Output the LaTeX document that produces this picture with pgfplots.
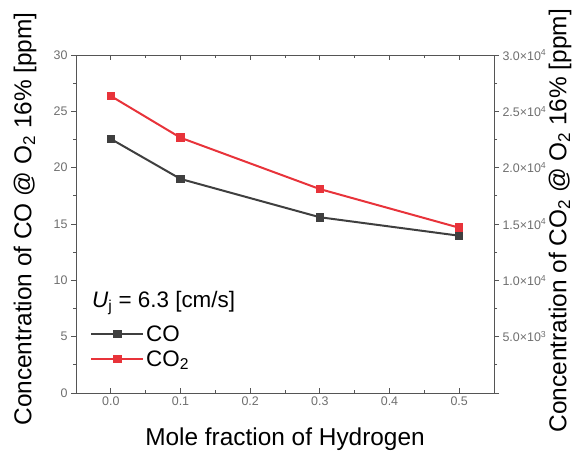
\documentclass[border=0pt]{standalone}
\usepackage{pgfplots}
\pgfplotsset{compat=1.18}
\usepackage{fontspec}
\setmainfont{Liberation Sans}

\definecolor{cogray}{HTML}{3F3F3F}
\definecolor{cored}{HTML}{E8333A}
\definecolor{tickgray}{HTML}{6E6E6E}
\definecolor{axgray}{HTML}{555555}

\pgfplotsset{
  base/.style={
    width=418bp, height=338bp, scale only axis,
    xmin=-0.05, xmax=0.55, ymin=0,
    axis line style={axgray, line width=0.9bp},
    every tick/.style={axgray, line width=0.8bp},
    major tick length=5bp, minor tick length=3bp,
    xtick align=inside, ytick align=outside,
    tick label style={font=\fontsize{12.5}{15}\selectfont, text=tickgray},
    /pgf/number format/assume math mode=true,
    label style={font=\fontsize{24.5}{29}\selectfont},
  },
  coline/.style={cogray, line width=2bp, mark=square*, mark size=3.3bp, mark options={solid}},
  co2line/.style={cored, line width=2bp, mark=square*, mark size=3.3bp, mark options={solid}},
}

\begin{document}
\begin{tikzpicture}
\begin{axis}[
  base,
  name=main,
  ymax=30,
  xtick={0,0.1,...,0.5},
  xticklabels={0.0,0.1,0.2,0.3,0.4,0.5},
  minor x tick num=1,
  xtick pos=both,
  ytick={0,5,...,30},
  minor y tick num=1,
  ytick pos=left,
  xlabel={Mole fraction of Hydrogen},
  ylabel={Concentration of CO @ O\textsubscript{2} 16\% [ppm]},
  ylabel style={at={(axis description cs:-0.122,0.515)}, anchor=center},
  xlabel style={at={(axis description cs:0.5,-0.154)}, anchor=base},
]
\addplot[coline] coordinates {(0,22.55) (0.1,19.0) (0.3,15.6) (0.5,13.96)};
\end{axis}

\begin{axis}[
  base,
  ymax=30000,
  axis x line=none,
  axis y line*=right,
  ytick={0,5000,...,30000},
  yticklabels={,{5.0×10\textsuperscript{3}},{1.0×10\textsuperscript{4}},{1.5×10\textsuperscript{4}},{2.0×10\textsuperscript{4}},{2.5×10\textsuperscript{4}},{3.0×10\textsuperscript{4}}},
  minor y tick num=1,
  ytick pos=right,
  scaled y ticks=false,
  ylabel={Concentration of CO\textsubscript{2} @ O\textsubscript{2} 16\% [ppm]},
  ylabel style={at={(axis description cs:1.158,0.51)}, anchor=center, rotate=0},
  legend cell align=left,
  legend style={at={(axis description cs:0.0335,0.1376)}, anchor=west, draw=none, fill=none,
    font=\fontsize{22.5}{27}\selectfont, inner sep=0pt, row sep=4bp},
  legend image code/.code={\draw[line width=2bp, mark repeat=2, mark phase=2] plot coordinates {(0bp,0bp) (26bp,0bp) (52bp,0bp)};},
]
\addlegendimage{coline}
\addlegendentry{CO}
\addplot[co2line] coordinates {(0,26360) (0.1,22660) (0.3,18100) (0.5,14670)};
\addlegendentry{CO\textsubscript{2}}
\node[anchor=base west, inner sep=0pt, font=\fontsize{22.5}{27}\selectfont]
  at (axis description cs:0.038,0.254) {\textit{U}\textsubscript{j} = 6.3 [cm/s]};
\end{axis}
\path ([shift={(-76bp,-57bp)}]main.south west) rectangle ([shift={(87bp,55bp)}]main.north east);
\end{tikzpicture}
\end{document}
